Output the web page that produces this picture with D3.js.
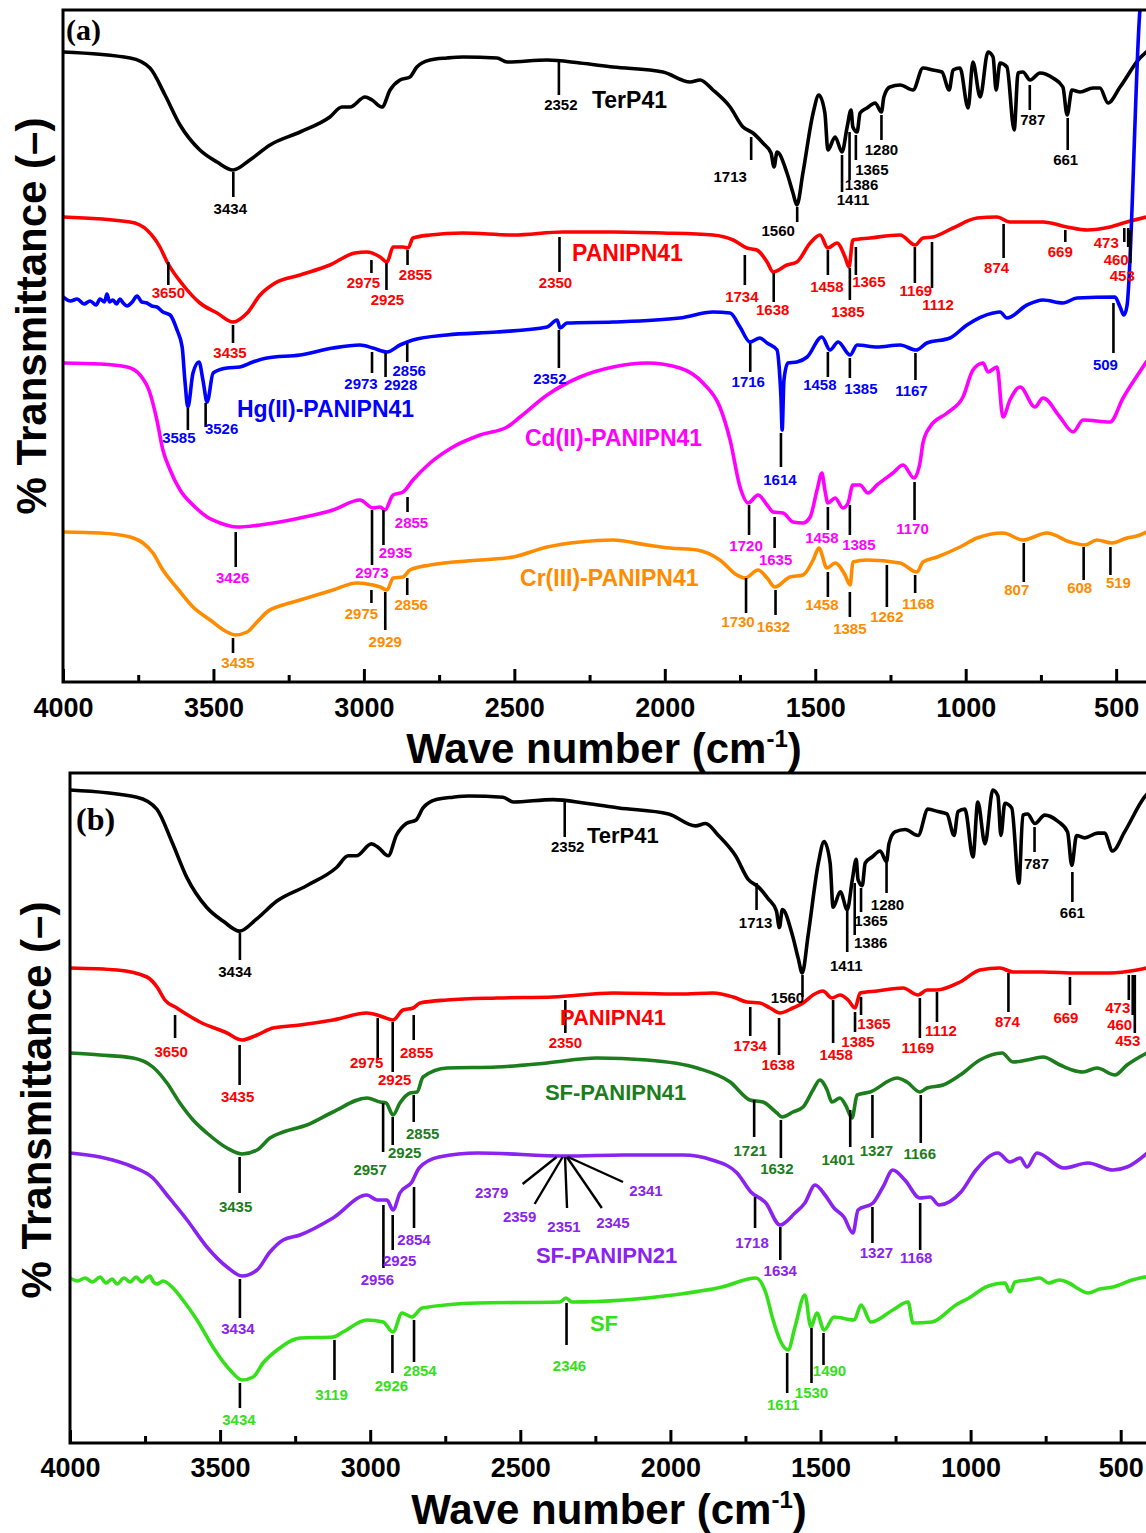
<!DOCTYPE html>
<html>
<head>
<meta charset="utf-8">
<script src="https://cdn.jsdelivr.net/npm/d3@7"></script>
<style>
  body { margin: 0; background: #fff; }
  svg { display: block; }
  text { font-family: "Liberation Sans", Arial, sans-serif; font-weight: bold; }
</style>
</head>
<body>
<svg id="chart" width="1146" height="1533"></svg>
<script>
// ---- DATA: [wavenumber cm-1, transmittance a.u.] ----
const terP41 = [[4000,63.0],[3777,62.4],[3711,61.4],[3661,58.7],[3611,55.7],[3545,53.2],[3488,52.0],[3435,51.2],[3379,52.2],[3312,53.7],[3212,55.0],[3113,56.5],[3073,57.5],[3046,57.5],[2996,58.5],[2973,58.2],[2940,57.5],[2913,59.2],[2880,60.2],[2847,60.5],[2824,61.5],[2780,62.2],[2724,62.4],[2671,62.5],[2558,62.4],[2524,62.0],[2391,62.2],[2282,61.9],[2172,61.5],[2006,61.0],[1916,60.0],[1883,60.2],[1840,59.2],[1783,57.5],[1740,55.5],[1707,54.9],[1674,53.9],[1647,52.9],[1637,51.5],[1627,53.0],[1594,50.9],[1574,48.9],[1561,47.7],[1541,50.9],[1507,56.9],[1488,58.7],[1468,56.9],[1458,53.2],[1434,54.5],[1411,53.0],[1394,55.5],[1381,57.2],[1375,55.5],[1361,55.0],[1351,56.9],[1328,57.4],[1301,57.9],[1280,57.0],[1272,58.5],[1252,59.5],[1218,59.7],[1175,59.2],[1142,61.4],[1109,61.2],[1079,61.0],[1055,59.2],[1042,61.2],[1019,61.4],[992,57.4],[976,62.0],[952,58.5],[926,63.0],[909,62.5],[899,59.2],[886,61.9],[863,61.5],[839,55.2],[826,60.9],[810,61.0],[786,60.2],[753,60.9],[710,60.4],[677,59.5],[663,56.7],[647,59.2],[620,59.0],[577,59.4],[554,59.4],[527,57.9],[487,59.5],[421,62.4],[400,63.0]];

const panipn41A = [[4000,46.5],[3777,46.0],[3721,45.2],[3678,43.5],[3654,42.0],[3601,39.7],[3545,37.9],[3488,36.9],[3435,36.0],[3388,36.9],[3345,38.7],[3295,39.9],[3212,40.7],[3113,41.7],[3030,42.9],[2990,43.0],[2946,42.5],[2923,42.0],[2903,43.5],[2870,43.5],[2853,43.4],[2837,44.4],[2780,44.7],[2671,44.9],[2504,44.7],[2338,45.0],[2172,45.0],[2006,44.9],[1840,44.7],[1773,44.2],[1727,43.4],[1694,43.2],[1660,42.0],[1640,41.0],[1594,41.7],[1561,42.0],[1517,43.9],[1484,44.7],[1458,43.4],[1428,43.9],[1401,42.5],[1388,41.5],[1375,44.2],[1318,44.4],[1218,44.7],[1168,43.7],[1142,44.4],[1109,44.5],[1042,45.4],[962,46.4],[896,46.5],[853,46.0],[743,46.0],[663,45.5],[597,45.2],[520,45.5],[464,46.0],[400,46.5]];

const hgPanipn41 = [[4000,38.5],[3975,38.1],[3953,38.3],[3930,37.8],[3910,38.1],[3890,37.7],[3877,38.3],[3862,38.0],[3854,38.8],[3845,38.0],[3834,38.2],[3822,37.8],[3811,38.3],[3800,37.9],[3787,37.6],[3770,38.0],[3754,38.6],[3738,38.0],[3721,37.9],[3705,37.6],[3688,37.5],[3668,37.0],[3644,36.7],[3621,35.2],[3604,33.5],[3595,30.2],[3585,27.5],[3568,30.9],[3548,32.0],[3535,30.2],[3521,28.0],[3501,30.9],[3455,31.4],[3412,31.5],[3369,32.0],[3322,32.4],[3212,32.7],[3103,33.4],[3013,33.7],[2970,33.4],[2923,33.0],[2880,33.7],[2837,34.2],[2724,34.7],[2558,35.0],[2391,35.5],[2358,36.2],[2348,35.4],[2325,35.9],[2172,36.0],[1950,36.4],[1840,37.0],[1783,36.9],[1750,35.5],[1717,34.0],[1684,34.4],[1660,33.9],[1627,33.2],[1620,31.5],[1614,28.5],[1610,25.2],[1604,30.2],[1591,31.9],[1561,32.0],[1527,32.5],[1478,34.5],[1451,33.2],[1424,34.0],[1384,32.7],[1361,33.7],[1295,33.5],[1218,33.7],[1165,33.2],[1129,33.9],[1052,34.4],[996,35.7],[909,36.9],[886,37.0],[863,36.4],[796,37.7],[743,38.2],[677,37.9],[630,38.4],[504,38.5],[487,37.5],[474,36.7],[464,37.6],[421,67.2],[400,72.0]];

const cdPanipn41 = [[4000,31.9],[3877,31.8],[3787,31.5],[3744,30.7],[3711,28.9],[3688,26.2],[3668,23.2],[3644,21.2],[3611,19.2],[3568,17.7],[3521,16.5],[3478,15.9],[3422,15.5],[3345,15.7],[3212,16.4],[3103,17.2],[3013,18.2],[2970,17.4],[2946,17.5],[2930,17.2],[2903,18.7],[2870,19.0],[2837,20.2],[2780,21.9],[2704,23.5],[2614,24.7],[2524,25.5],[2481,26.5],[2391,28.7],[2282,30.5],[2172,31.5],[2059,31.9],[1950,31.4],[1873,29.9],[1817,27.5],[1783,24.2],[1750,19.5],[1723,17.9],[1690,18.7],[1660,17.7],[1640,17.0],[1607,16.9],[1574,16.0],[1541,15.9],[1517,16.5],[1494,19.2],[1478,20.9],[1468,19.2],[1458,17.9],[1434,18.4],[1408,17.4],[1391,17.9],[1375,19.7],[1351,19.7],[1325,18.9],[1295,19.7],[1242,20.9],[1208,21.7],[1172,20.4],[1152,21.9],[1142,23.9],[1119,25.5],[1062,26.9],[1009,28.5],[976,31.2],[942,31.9],[926,31.0],[896,31.5],[876,26.5],[853,28.2],[819,29.5],[770,27.5],[743,28.4],[687,26.5],[643,25.0],[610,26.2],[520,26.0],[477,28.4],[411,31.5],[400,32.0]];

const crPanipn41 = [[4000,15.0],[3877,14.9],[3777,14.5],[3734,13.9],[3701,12.9],[3668,11.2],[3621,9.4],[3568,7.5],[3511,6.2],[3455,5.0],[3428,4.7],[3388,5.0],[3355,6.0],[3322,7.0],[3269,7.7],[3212,8.2],[3103,9.2],[3023,9.9],[2970,9.7],[2946,9.5],[2923,9.2],[2903,10.4],[2870,10.5],[2847,11.2],[2780,11.7],[2614,12.2],[2504,12.5],[2391,13.5],[2282,14.0],[2172,14.2],[2059,13.7],[1983,13.4],[1893,13.2],[1817,12.2],[1760,10.7],[1733,10.4],[1690,11.2],[1660,10.4],[1634,9.5],[1584,10.5],[1541,10.7],[1507,12.2],[1488,13.4],[1461,11.4],[1434,11.9],[1401,10.7],[1384,9.7],[1375,12.0],[1328,12.2],[1218,11.9],[1162,11.0],[1142,12.0],[1095,12.5],[1019,13.5],[962,14.4],[876,14.9],[810,14.2],[730,14.9],[653,14.0],[604,13.7],[564,14.2],[514,13.9],[464,14.4],[421,14.7],[400,15.0]];

const panipn41B = [[4000,47.5],[3843,47.3],[3744,46.6],[3710,45.6],[3684,44.3],[3644,43.5],[3567,42.1],[3477,41.0],[3427,40.3],[3377,40.8],[3324,41.5],[3234,41.8],[3124,42.3],[3011,43.0],[2977,42.8],[2957,42.6],[2924,42.3],[2891,43.3],[2857,43.5],[2834,44.0],[2744,44.3],[2578,44.5],[2391,44.6],[2191,45.0],[1968,44.9],[1858,45.0],[1791,44.6],[1745,44.1],[1702,44.0],[1668,43.5],[1635,43.0],[1592,43.5],[1558,44.0],[1525,44.8],[1492,45.2],[1462,44.5],[1435,44.8],[1408,44.3],[1385,43.5],[1368,45.0],[1312,45.2],[1225,45.5],[1175,44.8],[1145,45.3],[1112,45.3],[1035,46.1],[969,47.3],[902,47.5],[859,47.1],[759,47.1],[646,47.0],[536,47.0],[446,47.3],[400,47.6]];

const sfPanipn41 = [[4000,39.0],[3900,38.8],[3790,38.5],[3724,37.6],[3677,36.0],[3634,34.0],[3590,32.3],[3544,31.0],[3477,29.5],[3427,28.9],[3377,29.3],[3334,30.5],[3290,31.1],[3211,31.8],[3124,33.1],[3011,34.5],[2967,34.1],[2947,34.0],[2924,32.8],[2901,34.0],[2867,35.0],[2844,35.1],[2824,36.6],[2744,37.5],[2578,37.6],[2411,38.0],[2245,38.5],[2078,38.3],[1911,37.5],[1801,36.1],[1735,34.3],[1692,34.1],[1645,33.0],[1628,32.6],[1592,33.1],[1558,33.6],[1525,35.3],[1502,36.3],[1478,35.3],[1462,34.1],[1435,34.5],[1415,33.7],[1395,32.5],[1378,34.8],[1335,35.1],[1245,36.5],[1212,36.1],[1169,35.1],[1145,35.5],[1092,35.8],[1035,36.8],[969,38.3],[895,39.0],[859,38.1],[812,38.3],[759,38.6],[702,37.8],[662,37.3],[626,37.1],[579,37.5],[519,36.8],[479,37.8],[400,39.2]];

const sfPanipn21 = [[4000,29.0],[3900,28.6],[3790,27.6],[3724,26.5],[3677,24.8],[3610,22.3],[3544,19.6],[3477,17.6],[3427,16.7],[3377,17.3],[3334,19.1],[3290,20.3],[3234,20.8],[3124,22.5],[3011,24.8],[2977,24.3],[2944,24.3],[2924,23.3],[2901,25.0],[2861,26.1],[2837,27.5],[2771,28.6],[2641,29.0],[2348,28.7],[2155,28.8],[1958,28.8],[1861,28.3],[1778,27.0],[1732,25.1],[1682,24.0],[1635,21.8],[1585,23.0],[1552,24.0],[1518,25.8],[1485,24.8],[1455,23.5],[1422,22.6],[1392,21.0],[1375,23.3],[1325,24.0],[1292,25.6],[1259,27.3],[1219,26.3],[1169,24.5],[1135,24.6],[1105,23.8],[1032,25.1],[982,27.3],[909,29.0],[869,28.1],[835,28.5],[812,27.6],[779,29.0],[689,27.5],[609,28.0],[526,27.3],[479,27.6],[400,29.3]];

const sf = [[4000,16.5],[3975,16.2],[3950,16.5],[3925,16.1],[3900,16.6],[3880,16.0],[3860,16.4],[3843,15.9],[3820,16.5],[3800,16.1],[3780,16.6],[3760,16.1],[3745,16.5],[3734,16.7],[3722,16.1],[3710,15.9],[3690,16.2],[3657,15.5],[3624,14.3],[3577,12.3],[3524,9.6],[3467,7.3],[3427,6.3],[3390,6.6],[3357,8.0],[3310,9.3],[3234,10.5],[3124,10.6],[3091,11.1],[3011,12.3],[2957,12.1],[2924,11.1],[2894,13.0],[2861,12.6],[2827,13.5],[2641,14.0],[2368,14.1],[2348,14.5],[2328,14.1],[2155,14.3],[1991,14.8],[1828,15.6],[1715,16.5],[1682,15.0],[1658,12.3],[1632,10.1],[1608,9.3],[1585,11.6],[1552,14.8],[1532,11.6],[1512,13.0],[1488,11.3],[1455,12.6],[1388,12.3],[1365,13.8],[1332,12.1],[1259,13.3],[1208,14.1],[1192,12.0],[1129,12.1],[1049,13.8],[1000,14.6],[949,15.6],[885,16.0],[869,15.1],[852,16.1],[810,16.3],[769,16.5],[740,16.0],[705,16.3],[672,16.0],[640,15.4],[609,15.0],[570,15.4],[526,15.6],[462,16.3],[400,16.7]];

// peak labels (wavenumbers) for each trace
const terPeaksA = [3434, 2352, 1713, 1560, 1411, 1386, 1365, 1280, 787, 661];
const paniPeaksA = [3650, 3435, 2975, 2925, 2855, 2350, 1734, 1638, 1458, 1385, 1365, 1169, 1112, 874, 669, 473, 460, 453];
const hgPeaks = [3585, 3526, 2973, 2928, 2856, 2352, 1716, 1614, 1458, 1385, 1167, 509];
const cdPeaks = [3426, 2973, 2935, 2855, 1720, 1635, 1458, 1385, 1170];
const crPeaks = [3435, 2975, 2929, 2856, 1730, 1632, 1458, 1385, 1262, 1168, 807, 608, 519];
const terPeaksB = [3434, 2352, 1713, 1560, 1411, 1386, 1365, 1280, 787, 661];
const paniPeaksB = [3650, 3435, 2975, 2925, 2855, 2350, 1734, 1638, 1458, 1385, 1365, 1169, 1112, 874, 669, 473, 460, 453];
const sf41Peaks = [3435, 2957, 2925, 2855, 1721, 1632, 1401, 1327, 1166];
const sf21Peaks = [3434, 2956, 2925, 2854, 1718, 1634, 1327, 1168];
const sf21Fan = [2379, 2359, 2351, 2345, 2341];
const sfPeaks = [3434, 3119, 2926, 2854, 2346, 1611, 1530, 1490];

const majorTicks = [4000, 3500, 3000, 2500, 2000, 1500, 1000, 500];
const minorTicks = [3750, 3250, 2750, 2250, 1750, 1250, 750];

// ---- LAYOUT: drop-line ends (a.u.) and label offsets (px) per peak ----
const terMarksA = [[51.0,48.5,-3,12],[62.0,58.7,2,10],[54.5,52.2,-21,17],[47.5,46.0,-19,9],[52.7,49.0,11,8],[55.0,50.2,12,5],[54.7,52.2,16,10],[56.7,54.2,0,10],[59.7,57.2,3,10],[56.4,53.2,-2,10]];
const paniMarksA = [[42.0,39.7,0,8],[35.7,33.9,-3,10],[42.2,40.9,-8,10],[41.9,39.2,1,10],[43.2,41.7,8,10],[44.5,41.0,-4,11],[42.7,39.7,-3,12],[40.9,38.0,-1,8],[43.2,40.7,-1,12],[41.4,38.2,-2,12],[43.5,40.7,13,7],[43.5,39.9,1,8],[44.0,39.4,6,17],[45.8,42.4,-7,10],[45.2,44.0,-5,10],[45.4,44.0,-18,1],[45.4,43.5,-12,13],[45.2,41.9,-8,13]];
const hgMarks = [[27.4,25.2,-9,8],[27.9,25.5,16,2],[33.0,30.9,-11,11],[32.9,30.5,15,8],[33.9,32.0,2,9],[35.2,31.4,-9,11],[33.9,31.0,-2,10],[24.9,21.5,-1,13],[33.0,30.5,-8,8],[32.4,30.4,11,11],[32.9,30.2,-4,11],[37.9,32.9,-8,12]];
const cdMarks = [[15.0,11.5,-3,11],[17.2,11.7,0,8],[17.2,13.7,12,8],[18.5,17.0,4,11],[17.7,14.7,-3,11],[16.5,13.4,1,12],[17.5,15.2,-6,8],[17.7,14.7,9,10],[20.0,16.2,-2,9]];
const crMarks = [[4.4,2.9,5,10],[9.2,7.9,-10,11],[9.0,5.2,0,12],[10.4,8.7,4,10],[10.4,6.9,-8,9],[9.2,6.7,-2,12],[11.0,8.5,-6,8],[9.0,6.5,0,12],[11.7,7.5,0,10],[10.7,8.9,3,11],[13.9,10.0,-7,8],[13.5,10.2,-4,8],[13.5,10.7,8,8]];
const terMarksB = [[51.0,48.3,-5,12],[64.1,60.6,3,10],[56.0,53.3,-1,13],[46.8,44.6,-15,1],[53.3,49.1,-1,14],[56.0,50.8,16,8],[55.5,53.1,10,9],[58.0,55.0,1,12],[61.6,59.1,2,12],[57.1,54.1,0,11]];
const paniMarksB = [[42.8,40.5,-4,14],[39.8,35.8,-2,12],[42.5,38.3,-11,3],[42.1,37.1,2,8],[42.8,40.3,3,13],[44.3,41.0,0,10],[43.6,40.7,0,10],[42.5,38.8,-1,10],[44.3,40.0,3,12],[43.1,41.1,3,10],[44.6,42.8,13,9],[44.5,40.5,-2,10],[45.1,42.1,4,9],[47.0,43.1,-1,10],[46.6,43.8,-4,13],[46.8,44.3,-11,8],[46.8,42.8,-13,10],[46.8,41.0,-7,8]];
const sf41Marks = [[28.6,25.0,-4,14],[34.0,29.1,-13,18],[32.6,29.8,12,8],[34.8,32.1,9,12],[34.3,30.6,-4,14],[32.3,28.5,-4,11],[33.3,29.6,-12,13],[34.8,30.5,4,13],[34.8,30.0,-1,11]];
const sf21Marks = [[16.4,12.5,-2,11],[23.8,17.5,-6,12],[22.8,19.3,7,11],[25.6,21.5,0,12],[24.6,21.5,-3,15],[21.6,18.3,0,11],[23.6,20.0,4,10],[24.0,19.3,-4,8]];
const sf21FanMarks = [[-34,27,-31,9],[-28,47,-15,13],[2,51,-3,19],[35,51,11,15],[55,25,23,9]];
const sfMarks = [[6.0,3.5,-1,12],[10.3,6.3,-3,15],[10.8,7.0,-1,13],[12.3,8.1,6,9],[14.0,9.8,3,21],[9.0,5.0,-4,12],[11.5,6.0,0,10],[11.0,7.8,6,6]];

// ---- PANELS ----
const panels = [
  {
    tag: '(a)', left: 63, top: 10, bottom: 682, pxPerWn: 0.3009,
    tagPos: [66, 40], tagSize: 30, yLabelPos: [46, 316], titleY: 763, titleX: 604, tickPad: 16, nameSize: 23,
    series: [
      { name: 'TerP41', data: terP41, color: '#000000', peaks: terPeaksA, marks: terMarksA, namePos: [2242, 57.4] },
      { name: 'PANIPN41', data: panipn41A, color: '#ff0000', peaks: paniPeaksA, marks: paniMarksA, namePos: [2308, 42.1] },
      { name: 'Hg(II)-PANIPN41', data: hgPanipn41, color: '#0000ff', peaks: hgPeaks, marks: hgMarks, namePos: [3422, 26.5] },
      { name: 'Cd(II)-PANIPN41', data: cdPanipn41, color: '#ff00ff', peaks: cdPeaks, marks: cdMarks, namePos: [2465, 23.6] },
      { name: 'Cr(III)-PANIPN41', data: crPanipn41, color: '#ff8c00', peaks: crPeaks, marks: crMarks, namePos: [2481, 9.6] }
    ]
  },
  {
    tag: '(b)', left: 70, top: 773, bottom: 1443, pxPerWn: 0.3002,
    tagPos: [76, 830], tagSize: 32, yLabelPos: [51, 1100], titleY: 1524, titleX: 609, tickPad: 15, nameSize: 22,
    series: [
      // same TerP41 spectrum, stacked with a different gain / offset
      { name: 'TerP41', data: terP41, gain: 1.196, offset: -10.05, color: '#000000', peaks: terPeaksB, marks: terMarksB, namePos: [2278, 60.0] },
      { name: 'PANIPN41', data: panipn41B, color: '#ff0000', peaks: paniPeaksB, marks: paniMarksB, namePos: [2368, 41.8] },
      { name: 'SF-PANIPN41', data: sfPanipn41, color: '#1b7d1b', peaks: sf41Peaks, marks: sf41Marks, namePos: [2418, 34.3] },
      { name: 'SF-PANIPN21', data: sfPanipn21, color: '#8a22f0', peaks: sf21Peaks, marks: sf21Marks, namePos: [2448, 18.0],
        fan: { peaks: sf21Fan, marks: sf21FanMarks, t: 28.6 } },
      { name: 'SF', data: sf, color: '#35e01a', peaks: sfPeaks, marks: sfMarks, namePos: [2268, 11.2] }
    ]
  }
];

const svg = d3.select('#chart');

panels.forEach((p, i) => drawPanel(p, i));

// DRAW ONE PANEL
function drawPanel(p, i) {
  const x = d3.scaleLinear()
    .domain([4000, 400])
    .range([p.left, p.left + 3600 * p.pxPerWn]);

  const y = d3.scaleLinear()
    .domain([0, (p.bottom - p.top) / 10])
    .range([p.bottom, p.top]);

  const g = svg.append('g');

  // CLIP
  const clipId = 'clip' + i;
  g.append('clipPath').attr('id', clipId)
    .append('rect')
    .attr('x', p.left).attr('y', p.top)
    .attr('width', x(400) - p.left + 10).attr('height', p.bottom - p.top);

  // CURVES
  const plot = g.append('g').attr('clip-path', `url(#${clipId})`);
  p.series.forEach((s) => {
    const gain = s.gain || 1;
    const off = s.offset || 0;
    const line = d3.line()
      .x((d) => x(d[0]))
      .y((d) => y(off + gain * d[1]))
      .curve(d3.curveMonotoneX);

    plot.append('path')
      .datum(s.data)
      .attr('fill', 'none')
      .attr('stroke', s.color)
      .attr('stroke-width', 3.6)
      .attr('stroke-linejoin', 'round')
      .attr('stroke-linecap', 'round')
      .attr('d', line);
  });

  // PEAK MARKERS
  p.series.forEach((s) => {
    const ann = g.append('g');
    s.peaks.forEach((wn, k) => {
      const [t1, t2, dx, dy] = s.marks[k];
      const px = x(wn);
      ann.append('line')
        .attr('x1', px).attr('x2', px)
        .attr('y1', y(t1)).attr('y2', y(t2))
        .attr('stroke', '#000').attr('stroke-width', 2.6);
      ann.append('text')
        .attr('x', px + dx)
        .attr('y', y(t2) + dy + 5)
        .attr('text-anchor', 'middle')
        .attr('font-size', 15)
        .attr('fill', s.color)
        .text(wn);
    });

    if (s.fan) {
      s.fan.peaks.forEach((wn, k) => {
        const [ex, ey, lx, ly] = s.fan.marks[k];
        const px = x(wn);
        const py = y(s.fan.t);
        ann.append('line')
          .attr('x1', px).attr('y1', py)
          .attr('x2', px + ex).attr('y2', py + ey)
          .attr('stroke', '#000').attr('stroke-width', 2.4);
        ann.append('text')
          .attr('x', px + ex + lx)
          .attr('y', py + ey + ly + 5)
          .attr('text-anchor', 'middle')
          .attr('font-size', 15)
          .attr('fill', s.color)
          .text(wn);
      });
    }

    // SERIES NAME
    ann.append('text')
      .attr('x', x(s.namePos[0]))
      .attr('y', y(s.namePos[1]))
      .attr('font-size', p.nameSize)
      .attr('fill', s.color)
      .text(s.name);
  });

  // FRAME
  g.append('rect')
    .attr('x', p.left).attr('y', p.top)
    .attr('width', x(400) - p.left + 4).attr('height', p.bottom - p.top)
    .attr('fill', 'none').attr('stroke', '#000').attr('stroke-width', 3);

  // AXES
  const major = g.append('g')
    .attr('transform', `translate(0,${p.bottom})`)
    .call(d3.axisBottom(x).tickValues(majorTicks).tickSize(-13).tickPadding(p.tickPad).tickFormat(d3.format('d')));
  major.select('.domain').remove();
  major.selectAll('.tick line').attr('stroke-width', 3);
  major.selectAll('.tick text')
    .attr('font-size', 27)
    .attr('fill', '#000');

  const minor = g.append('g')
    .attr('transform', `translate(0,${p.bottom})`)
    .call(d3.axisBottom(x).tickValues(minorTicks).tickSize(-7).tickFormat(''));
  minor.select('.domain').remove();
  minor.selectAll('.tick line').attr('stroke-width', 3);

  // AXIS TITLE
  const title = g.append('text')
    .attr('x', p.titleX).attr('y', p.titleY)
    .attr('text-anchor', 'middle')
    .attr('font-size', 42)
    .attr('fill', '#000');
  title.append('tspan').text('Wave number (cm');
  title.append('tspan').attr('font-size', 24).attr('dy', -16).text('-1');
  title.append('tspan').attr('dy', 16).text(')');

  // Y LABEL
  g.append('text')
    .attr('transform', `translate(${p.yLabelPos[0]},${p.yLabelPos[1]}) rotate(-90)`)
    .attr('text-anchor', 'middle')
    .attr('font-size', 42)
    .attr('fill', '#000')
    .text('% Transmittance (\u2013)');

  // PANEL TAG (serif, set as style so it beats the sheet rule)
  g.append('text')
    .attr('x', p.tagPos[0]).attr('y', p.tagPos[1])
    .style('font-family', '"Liberation Serif", "Times New Roman", serif')
    .attr('font-size', p.tagSize)
    .attr('fill', '#000')
    .text(p.tag);
}
</script>
</body>
</html>
